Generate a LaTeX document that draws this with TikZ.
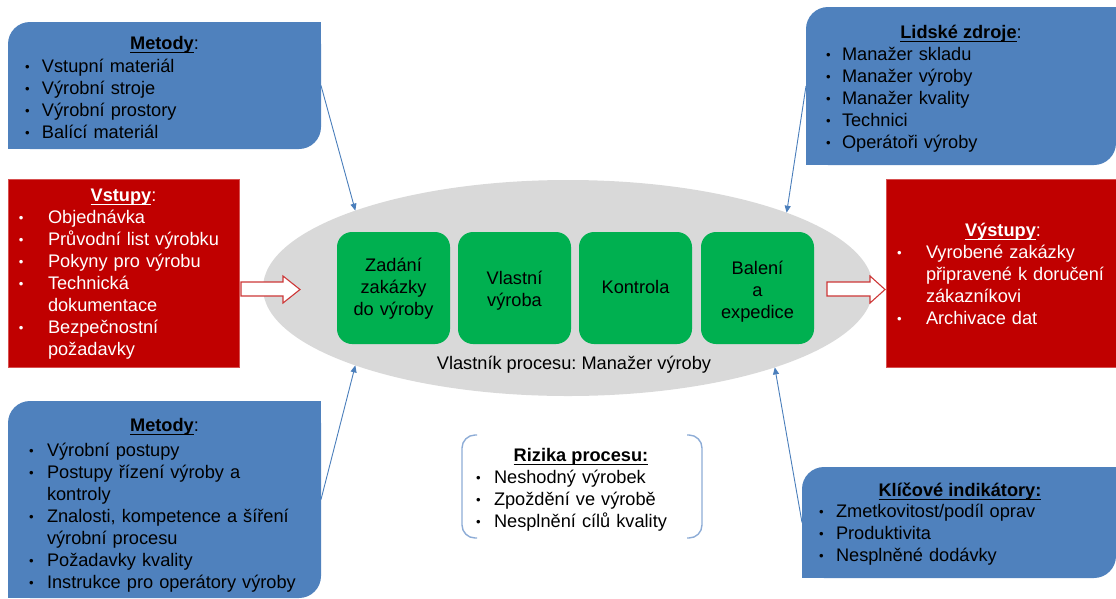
\documentclass[tikz,border=0pt]{standalone}
\usepackage{fontspec}
\usepackage{graphicx}
\setmainfont{Liberation Sans}
\frenchspacing
\usetikzlibrary{arrows.meta,shapes.geometric}

\definecolor{boxblue}{RGB}{79,129,189}
\definecolor{boxred}{RGB}{192,0,0}
\definecolor{boxredline}{RGB}{215,80,80}
\definecolor{stepgreen}{RGB}{0,176,80}
\definecolor{ovalgray}{RGB}{217,217,217}
\definecolor{linkblue}{RGB}{74,126,187}
\definecolor{bracketblue}{RGB}{141,172,214}
\definecolor{arrowred}{RGB}{205,55,55}

\newlength\bulw
\newcommand\bulmark{\raisebox{1.3pt}{\scalebox{0.72}{\textbullet}}}
\newcommand\bul[1]{\makebox[\bulw][l]{\bulmark}#1}
\newcommand\nxt[1]{\hspace*{\bulw}#1}
% bold underlined heading
\newsavebox\ttlbox
\newcommand\ttl[1]{\sbox\ttlbox{\textbf{#1}}\rlap{\rule[-3.3pt]{\wd\ttlbox}{1.1pt}}\usebox\ttlbox}

% box with two rounded corners (top left, bottom right)
\newcommand\halfround[2]{%
  \fill[#2, rounded corners=22pt] (#1.south west) rectangle (#1.north east);
  \fill[#2] (#1.north east) rectangle ([xshift=-30pt,yshift=-30pt]#1.north east);
  \fill[#2] (#1.south west) rectangle ([xshift=30pt,yshift=30pt]#1.south west);
}

\begin{document}
\begin{tikzpicture}[x=1pt, y=-1pt,
  every node/.style={inner sep=0pt, outer sep=0pt},
  frame/.style={rectangle},
  textfont/.style={font=\fontsize{18.2}{22}\selectfont},
  bw/.code={\setlength\bulw{#1}},
  listtext/.style={textfont, anchor=base west, align=left, text width=#1},
  titletext/.style={textfont, anchor=base},
  steptext/.style={textfont, anchor=base, align=center, text width=110pt},
  stepbox/.style={rectangle, rounded corners=15pt, fill=stepgreen,
    minimum width=113pt, minimum height=112pt},
  link/.style={draw=linkblue, line width=0.9pt,
    -{Triangle[length=7pt, width=6pt]}},
  blockarrow/.style={draw=arrowred, fill=white, line width=1.1pt, line join=miter},
  bracket/.style={draw=bracketblue, line width=1.4pt, rounded corners=13pt}]

\useasboundingbox (0,0) rectangle (1116,598);

% ---------- central process ----------
\node[ellipse, fill=ovalgray, minimum width=610pt, minimum height=216pt] (proc) at (568,288) {};

\node[stepbox] (s1) at (393.5,288) {};
\node[stepbox] (s2) at (514.5,288) {};
\node[stepbox] (s3) at (635.5,288) {};
\node[stepbox] (s4) at (757.5,288) {};
\node[steptext] (s1t) at (393.5,271.5) {Zadání\\zakázky\\do výroby};
\node[steptext] (s2t) at (514.5,284.5) {Vlastní\\výroba};
\node[steptext] (s3t) at (635.5,293.5) {Kontrola};
\node[steptext] (s4t) at (757.5,274.5) {Balení\\a\\expedice};
\node[titletext] (owner) at (574,369.5) {Vlastník procesu: Manažer výroby};

% ---------- surrounding boxes ----------
\node[frame, minimum width=313pt, minimum height=127pt] (m1) at (164.5,85.5) {};
\node[frame, minimum width=231pt, minimum height=188pt] (vst) at (123.5,273) {};
\node[frame, minimum width=313pt, minimum height=197pt] (m2) at (164.5,499.5) {};
\node[frame, minimum width=310pt, minimum height=158pt] (lid) at (961,86) {};
\node[frame, minimum width=230pt, minimum height=188pt] (vys) at (1001,273) {};
\node[frame, minimum width=314pt, minimum height=111pt] (kli) at (959,522.5) {};
\node[frame, minimum width=240pt, minimum height=103pt] (riz) at (582,486.5) {};

\halfround{m1}{boxblue}
\halfround{m2}{boxblue}
\halfround{lid}{boxblue}
\halfround{kli}{boxblue}
\fill[boxred, draw=boxredline, line width=0.7pt] (vst.south west) rectangle (vst.north east);
\fill[boxred, draw=boxredline, line width=0.7pt] (vys.south west) rectangle (vys.north east);

% risk frame: two rounded brackets
\draw[bracket] ([xshift=15pt]riz.north west) -- (riz.north west) -- (riz.south west) -- ([xshift=15pt]riz.south west);
\draw[bracket] ([xshift=-15pt]riz.north east) -- (riz.north east) -- (riz.south east) -- ([xshift=-15pt]riz.south east);

% ---------- texts ----------
\node[titletext] (m1h) at (164.5,49.5) {\ttl{Metody}:};
\node[listtext=285pt, bw=17pt] (m1l) at (25,72.5) {%
  \bul{Vstupní materiál}\\
  \bul{Výrobní stroje}\\
  \bul{Výrobní prostory}\\
  \bul{Balící materiál}};

\node[titletext, text=white] (vsth) at (123.5,201.5) {\ttl{Vstupy}:};
\node[listtext=215pt, bw=29pt, text=white] (vstl) at (19,223.5) {%
  \bul{Objednávka}\\
  \bul{Průvodní list výrobku}\\
  \bul{Pokyny pro výrobu}\\
  \bul{Technická}\\
  \nxt{dokumentace}\\
  \bul{Bezpečnostní}\\
  \nxt{požadavky}};

\node[titletext] (m2h) at (164.5,431.5) {\ttl{Metody}:};
\node[listtext=285pt, bw=18pt] (m2l) at (29,456.5) {%
  \bul{Výrobní postupy}\\
  \bul{Postupy řízení výroby a}\\
  \nxt{kontroly}\\
  \bul{Znalosti, kompetence a šíření}\\
  \nxt{výrobní procesu}\\
  \bul{Požadavky kvality}\\
  \bul{Instrukce pro operátory výroby}};

\node[titletext] (lidh) at (961,38.5) {\ttl{Lidské zdroje}:};
\node[listtext=280pt, bw=16pt] (lidl) at (826,60.5) {%
  \bul{Manažer skladu}\\
  \bul{Manažer výroby}\\
  \bul{Manažer kvality}\\
  \bul{Technici}\\
  \bul{Operátoři výroby}};

\node[titletext, text=white] (vysh) at (1003,236.5) {\ttl{Výstupy}:};
\node[listtext=215pt, bw=29pt, text=white] (vysl) at (897,258.5) {%
  \bul{Vyrobené zakázky}\\
  \nxt{připravené k doručení}\\
  \nxt{zákazníkovi}\\
  \bul{Archivace dat}};

\node[titletext] (klih) at (960,496.5) {\ttl{Klíčové indikátory:}};
\node[listtext=285pt, bw=17pt] (klil) at (819,517.5) {%
  \bul{Zmetkovitost/podíl oprav}\\
  \bul{Produktivita}\\
  \bul{Nesplněné dodávky}};

\node[titletext] (rizh) at (581,461.5) {\ttl{Rizika procesu:}};
\node[listtext=215pt, bw=18pt] (rizl) at (476,483.5) {%
  \bul{Neshodný výrobek}\\
  \bul{Zpoždění ve výrobě}\\
  \bul{Nesplnění cílů kvality}};

% ---------- connectors ----------
\draw[link] (m1.east) -- (proc.160.6);
\draw[link] (m2.east) -- (proc.200.2);
\draw[link] (lid.west) -- (proc.19.4);
\draw[link] (kli.west) -- (proc.339.7);

% input and output block arrows
\draw[blockarrow] (241,282) -- (283,282) -- (283,276) -- (300,289.5) -- (283,303) -- (283,296) -- (241,296) -- cycle;
\draw[blockarrow] (827,282) -- (870,282) -- (870,276) -- (885,289.5) -- (870,303) -- (870,296) -- (827,296) -- cycle;

\end{tikzpicture}
\end{document}
